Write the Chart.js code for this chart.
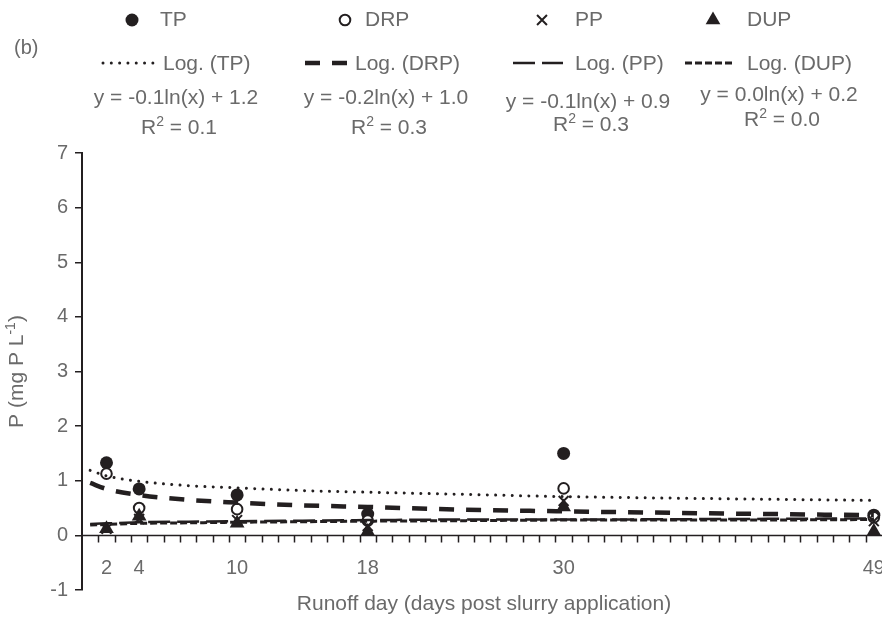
<!DOCTYPE html>
<html>
<head>
<meta charset="utf-8">
<title>P in runoff</title>
<script src="https://cdn.jsdelivr.net/npm/chart.js@4.4.1/dist/chart.umd.min.js"></script>
<style>
  html, body { margin: 0; padding: 0; background: #fff; }
  canvas { display: block; }
</style>
</head>
<body>
<canvas id="chart" width="882" height="618"></canvas>
<script>
// runoff sampling days and measured P (mg P / L)
const days = [2, 4, 10, 18, 30, 49];
const tp  = [1.33, 0.85, 0.74, 0.39, 1.50, 0.37];
const drp = [1.13, 0.50, 0.48, 0.27, 0.86, 0.33];
const pp  = [0.12, 0.30, 0.28, 0.17, 0.63, 0.26];
const dup = [0.12, 0.35, 0.22, 0.07, 0.52, 0.07];

// logarithmic trendlines, values at these days
const trendDays = [1, 2, 4, 7, 10, 14, 18, 24, 30, 40, 49];
const tpTrend  = [1.19, 1.09, 0.99, 0.91, 0.87, 0.82, 0.79, 0.75, 0.71, 0.67, 0.64];
const drpTrend = [0.96, 0.85, 0.74, 0.65, 0.60, 0.55, 0.52, 0.47, 0.44, 0.40, 0.37];
const ppTrend  = [0.21, 0.22, 0.24, 0.25, 0.26, 0.27, 0.28, 0.29, 0.29, 0.30, 0.31];
const dupTrend = [0.19, 0.20, 0.22, 0.23, 0.24, 0.25, 0.26, 0.27, 0.28, 0.28, 0.29];

const seriesNames = ['TP', 'DRP', 'PP', 'DUP'];
const equations = ['y = -0.1ln(x) + 1.2', 'y = -0.2ln(x) + 1.0', 'y = -0.1ln(x) + 0.9', 'y = 0.0ln(x) + 0.2'];
const rSquared = ['0.1', '0.3', '0.3', '0.0'];
const yTicks = [-1, 0, 1, 2, 3, 4, 5, 6, 7];
const xTickLabels = days;

const INK = '#231f20';
const GREY = '#6a6a6a';
const FAMILY = '"Liberation Sans", Arial, Helvetica, sans-serif';
Chart.defaults.font.family = FAMILY;

const pts = (xs, ys) => xs.map((x, i) => ({ x: x, y: ys[i] }));

// marker and line looks per series
const markerStyle = [
  { pointStyle: 'circle',   radius: 6.5, fill: INK,    borderWidth: 0 },
  { pointStyle: 'circle',   radius: 5.3, fill: '#fff', borderWidth: 2 },
  { pointStyle: 'crossRot', radius: 7,   fill: INK,    borderWidth: 2 },
  { pointStyle: 'triangle', radius: 8.5, fill: INK,    borderWidth: 0 }
];
const trendStyle = [
  { width: 3,   dash: [0.01, 8.3], cap: 'round' },
  { width: 4.5, dash: [15, 12],    cap: 'butt' },
  { width: 2.5, dash: [22, 7],     cap: 'butt' },
  { width: 3,   dash: [7, 3],      cap: 'butt' }
];

function markerSet(i, values) {
  const m = markerStyle[i];
  return {
    label: seriesNames[i],
    data: pts(days, values),
    pointStyle: m.pointStyle,
    pointRadius: m.radius,
    pointHoverRadius: m.radius,
    backgroundColor: m.fill,
    borderColor: INK,
    borderWidth: m.borderWidth,
    showLine: false,
    clip: 12,
    order: 10 - i
  };
}

function trendSet(i, values) {
  const s = trendStyle[i];
  return {
    label: 'Log. (' + seriesNames[i] + ')',
    data: pts(trendDays, values),
    showLine: true,
    pointRadius: 0,
    borderColor: INK,
    borderWidth: s.width,
    borderDash: s.dash,
    borderCapStyle: s.cap,
    cubicInterpolationMode: 'monotone',
    order: 4 - i
  };
}

function legendMarker(ctx, i, x, y) {
  const m = markerStyle[i];
  ctx.save();
  ctx.fillStyle = m.fill;
  ctx.strokeStyle = INK;
  ctx.lineWidth = m.borderWidth;
  Chart.helpers.drawPoint(ctx, { pointStyle: m.pointStyle, radius: m.radius, borderWidth: m.borderWidth, rotation: 0 }, x, y);
  ctx.restore();
}

function legendLine(ctx, i, x0, x1, y) {
  const s = trendStyle[i];
  ctx.save();
  ctx.strokeStyle = INK;
  ctx.lineWidth = s.width;
  ctx.lineCap = s.cap;
  ctx.setLineDash(s.dash);
  ctx.beginPath();
  ctx.moveTo(x0, y);
  ctx.lineTo(x1, y);
  ctx.stroke();
  ctx.restore();
}

// text with optional superscript pieces: parts = [[text, isSup], ...]
function richText(ctx, parts, cx, cy, size) {
  const big = size + 'px ' + FAMILY;
  const small = Math.round(size * 0.68) + 'px ' + FAMILY;
  let w = 0;
  parts.forEach(p => { ctx.font = p[1] ? small : big; w += ctx.measureText(p[0]).width; });
  let x = cx - w / 2;
  ctx.textAlign = 'left';
  ctx.textBaseline = 'middle';
  parts.forEach(p => {
    ctx.font = p[1] ? small : big;
    ctx.fillText(p[0], x, p[1] ? cy - size * 0.3 : cy);
    x += ctx.measureText(p[0]).width;
  });
}

// x axis sits on y = 0, ticks between days
const zeroAxis = {
  id: 'zeroAxis',
  beforeDatasetsDraw(chart) {
    const ctx = chart.ctx;
    const xs = chart.scales.x, ys = chart.scales.y;
    const area = chart.chartArea;
    const y0 = ys.getPixelForValue(0);
    ctx.save();
    ctx.strokeStyle = INK;
    ctx.lineWidth = 1.5;
    ctx.beginPath();
    ctx.moveTo(area.left, y0);
    ctx.lineTo(area.right, y0);
    for (let d = 1.5; d < xs.max; d += 1) {
      const px = Math.round(xs.getPixelForValue(d)) + 0.5;
      ctx.moveTo(px, y0);
      ctx.lineTo(px, y0 + 7);
    }
    ctx.stroke();

    ctx.fillStyle = GREY;
    ctx.font = '20px ' + FAMILY;
    ctx.textAlign = 'center';
    ctx.textBaseline = 'middle';
    xTickLabels.forEach(d => ctx.fillText(String(d), xs.getPixelForValue(d), 568));
    ctx.font = '21px ' + FAMILY;
    ctx.fillText('Runoff day (days post slurry application)', (area.left + area.right) / 2 + 2, 604);

    // y axis title
    ctx.translate(17, (area.top + area.bottom) / 2);
    ctx.rotate(-Math.PI / 2);
    richText(ctx, [['P (mg P L', false], ['-1', true], [')', false]], 0, 0, 21);
    ctx.restore();
  }
};

// legend rows and trendline equations above the plot
const header = {
  id: 'header',
  afterDraw(chart) {
    const ctx = chart.ctx;
    const markX = [132, 345, 542, 713];
    const nameX = [160, 365, 575, 747];
    const lineX = [[103, 155], [305, 347], [513, 563], [685, 735]];
    const logX  = [163, 355, 575, 747];
    const eqX = [176, 386, 588, 779];
    const eqY = [98, 98, 102, 95];
    const r2Y = [128, 128, 125, 120];
    ctx.save();
    ctx.fillStyle = GREY;
    ctx.font = '20px ' + FAMILY;
    ctx.textAlign = 'left';
    ctx.textBaseline = 'middle';
    ctx.fillText('(b)', 14, 48);
    seriesNames.forEach((name, i) => {
      legendMarker(ctx, i, markX[i], 20);
      ctx.fillStyle = GREY;
      ctx.font = '21px ' + FAMILY;
      ctx.textAlign = 'left';
      ctx.textBaseline = 'middle';
      ctx.fillText(name, nameX[i], 20);
      legendLine(ctx, i, lineX[i][0], lineX[i][1], 63);
      ctx.fillText('Log. (' + name + ')', logX[i], 64);
      richText(ctx, [[equations[i], false]], eqX[i], eqY[i], 21);
      richText(ctx, [['R', false], ['2', true], [' = ' + rSquared[i], false]], eqX[i] + 3, r2Y[i], 21);
    });
    ctx.restore();
  }
};

new Chart(document.getElementById('chart'), {
  type: 'scatter',
  data: {
    datasets: [
      markerSet(0, tp), markerSet(1, drp), markerSet(2, pp), markerSet(3, dup),
      trendSet(0, tpTrend), trendSet(1, drpTrend), trendSet(2, ppTrend), trendSet(3, dupTrend)
    ]
  },
  options: {
    responsive: false,
    animation: false,
    events: [],
    layout: { autoPadding: false, padding: { top: 153, bottom: 28, left: 0, right: 0 } },
    plugins: { legend: { display: false }, tooltip: { enabled: false } },
    scales: {
      x: { type: 'linear', min: 0.5, max: 49.5, display: false },
      y: {
        type: 'linear',
        min: -1,
        max: 7,
        position: 'left',
        afterBuildTicks: s => { s.ticks = yTicks.map(v => ({ value: v })); },
        afterFit: s => { s.width = 82; },
        ticks: { color: GREY, font: { size: 20 }, padding: 7 },
        grid: { drawOnChartArea: false, drawTicks: true, tickLength: 7, color: INK, lineWidth: 1.5 },
        border: { color: INK, width: 2 }
      }
    }
  },
  plugins: [zeroAxis, header]
});
</script>
</body>
</html>
